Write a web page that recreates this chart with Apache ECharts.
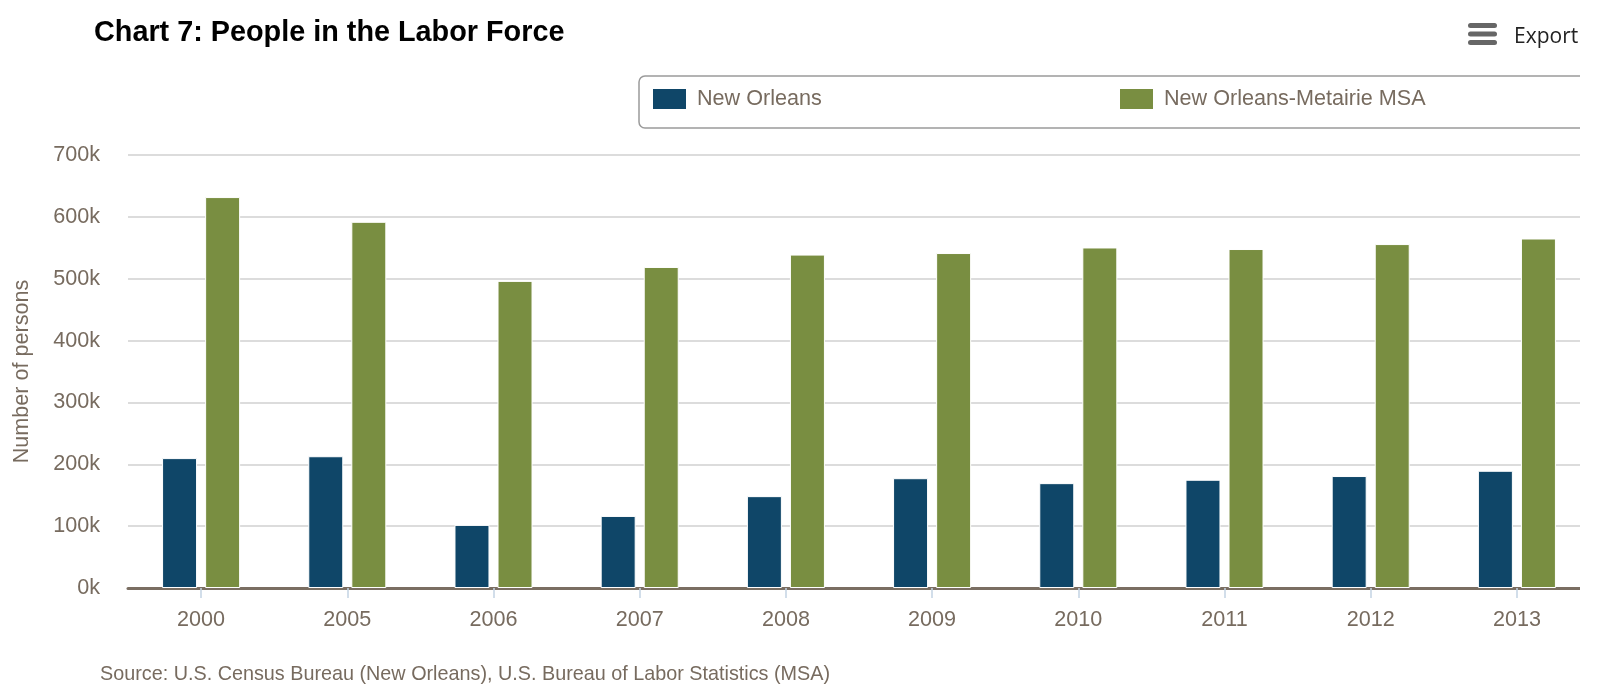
<!DOCTYPE html>
<html>
<head>
<meta charset="utf-8">
<title>Chart 7: People in the Labor Force</title>
<script src="https://cdn.jsdelivr.net/npm/echarts@6/dist/echarts.min.js"></script>
<style>
  html, body { margin: 0; padding: 0; background: #ffffff; }
  #clip { width: 1580px; height: 684px; overflow: hidden; }
  #chart { width: 1606px; height: 684px; }
</style>
</head>
<body>
<div id="clip"><div id="chart"></div></div>
<script>
// Years shown on the category axis
const years = ['2000', '2005', '2006', '2007', '2008', '2009', '2010', '2011', '2012', '2013'];

// Labor force, number of persons
const newOrleans = [210000, 213000, 102000, 116500, 148500, 177500, 169500, 175000, 181000, 189500];
const metroMSA   = [632000, 592000, 496500, 519000, 539000, 541500, 550500, 548000, 556000, 565000];

const seriesNames = ['New Orleans', 'New Orleans-Metairie MSA'];
const titleText = 'Chart 7: People in the Labor Force';
const sourceText = 'Source: U.S. Census Bureau (New Orleans), U.S. Bureau of Labor Statistics (MSA)';
const yAxisName = 'Number of persons';

const FONT = "'Liberation Sans', Arial, Helvetica, sans-serif";
const TEXT_GREY = '#776b5f';
const BLUE = '#0f4668';
const GREEN = '#798e41';

const chart = echarts.init(document.getElementById('chart'), null, { renderer: 'canvas' });

chart.setOption({
  backgroundColor: '#ffffff',
  animation: false,
  title: [
    {
      text: titleText,
      left: 94,
      top: 19,
      padding: 0,
      textStyle: { fontFamily: FONT, fontSize: 28.8, fontWeight: 'bold', color: '#000000' }
    },
    {
      text: sourceText,
      left: 100,
      top: 665,
      padding: 0,
      textStyle: { fontFamily: FONT, fontSize: 19.8, fontWeight: 'normal', color: TEXT_GREY }
    }
  ],
  legend: {
    data: seriesNames,
    left: 639,
    top: 76,
    orient: 'horizontal',
    padding: [11, 14, 17, 12],
    itemGap: 9,
    itemWidth: 35,
    itemHeight: 22,
    icon: 'rect',
    borderColor: '#9a9a9a',
    borderWidth: 1.5,
    borderRadius: 6,
    selectedMode: false,
    textStyle: {
      fontFamily: FONT,
      fontSize: 21.6,
      color: TEXT_GREY,
      width: 412,
      lineHeight: 24,
      padding: [0, 0, 0, 5]
    }
  },
  grid: {
    left: 128,
    right: 16,
    top: 155,
    bottom: 96,
    containLabel: false
  },
  xAxis: {
    type: 'category',
    data: years,
    boundaryGap: true,
    axisLine: { show: true, lineStyle: { color: '#7a6e62', width: 3 } },
    axisTick: { show: true, alignWithLabel: true, length: 10, lineStyle: { color: '#c4d3e3', width: 1.5 } },
    axisLabel: { fontFamily: FONT, fontSize: 21.6, color: TEXT_GREY, margin: 21 },
    splitLine: { show: false }
  },
  yAxis: {
    type: 'value',
    min: 0,
    max: 700000,
    interval: 100000,
    name: yAxisName,
    nameLocation: 'middle',
    nameGap: 95,
    nameRotate: 90,
    nameTextStyle: { fontFamily: FONT, fontSize: 21.6, color: TEXT_GREY },
    axisLine: { show: false },
    axisTick: { show: false },
    axisLabel: {
      fontFamily: FONT,
      fontSize: 21.6,
      color: TEXT_GREY,
      margin: 28,
      padding: [5, 0, 0, 0],
      formatter: v => (v / 1000) + 'k'
    },
    splitLine: { show: true, lineStyle: { color: '#dcdcdc', width: 2 } }
  },
  series: [
    {
      name: seriesNames[0],
      type: 'bar',
      data: newOrleans,
      barWidth: 35,
      barGap: '23%',
      itemStyle: { color: BLUE, borderColor: '#ffffff', borderWidth: 1 }
    },
    {
      name: seriesNames[1],
      type: 'bar',
      data: metroMSA,
      barWidth: 35,
      barGap: '23%',
      itemStyle: { color: GREEN, borderColor: '#ffffff', borderWidth: 1 }
    }
  ],
  graphic: [
    {
      type: 'group',
      left: 1468,
      top: 23,
      children: [
        { type: 'rect', shape: { x: 0, y: 0, width: 29, height: 5, r: 2.5 }, style: { fill: '#666666' } },
        { type: 'rect', shape: { x: 0, y: 8.5, width: 29, height: 5, r: 2.5 }, style: { fill: '#666666' } },
        { type: 'rect', shape: { x: 0, y: 17, width: 29, height: 5, r: 2.5 }, style: { fill: '#666666' } }
      ]
    },
    {
      type: 'text',
      left: 1514,
      top: 27,
      style: {
        text: 'Export',
        fontFamily: "'Open Sans', 'Liberation Sans', sans-serif",
        fontSize: 21,
        fill: '#222222'
      }
    }
  ]
});
</script>
</body>
</html>
